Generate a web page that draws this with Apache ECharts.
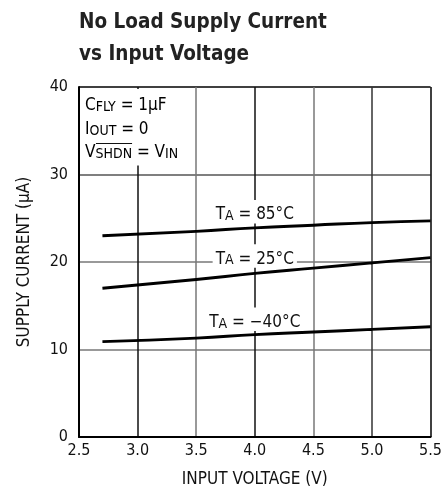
<!DOCTYPE html>
<html><head><meta charset="utf-8">
<script src="https://cdn.jsdelivr.net/npm/echarts@6/dist/echarts.min.js"></script>
<style>html,body{margin:0;padding:0;background:#fff}#c{width:445px;height:493px}</style>
</head><body><div id="c"></div>
<script>
var FONT = "'DejaVu Sans Condensed','Liberation Sans',sans-serif";
var voltage = [2.7, 3.5, 4.0, 4.5, 5.0, 5.5];
var cur85 = [23.0, 23.5, 23.9, 24.2, 24.5, 24.7];
var cur25 = [17.0, 18.0, 18.7, 19.3, 19.9, 20.5];
var curM40 = [10.9, 11.3, 11.7, 12.0, 12.3, 12.6];
var seriesNames = ['85', '25', '−40'];
var labelPos = [[4.0, 25.75], [4.0, 20.7], [4.0, 13.45]];
var xTicks = ['2.5', '3.0', '3.5', '4.0', '4.5', '5.0', '5.5'];
var yTicks = ['0', '10', '20', '30', '40'];

var BASE = 17, SUB = 14;
var rich = {
  b: {fontFamily: FONT, fontSize: BASE, lineHeight: 23.5, color: '#111', verticalAlign: 'bottom'},
  s: {fontFamily: FONT, fontSize: SUB, lineHeight: 14, color: '#111', verticalAlign: 'bottom'}
};

function mk(name, data, i) {
  return {
    type: 'line', name: name, data: voltage.map(function (v, k) { return [v, data[k]]; }),
    symbol: 'none', smooth: true, lineStyle: {color: '#000', width: 3}, z: 3,
    markPoint: {
      symbol: 'rect', symbolSize: 0,
      data: [{coord: labelPos[i]}],
      label: {show: true, position: 'inside', backgroundColor: '#fff', padding: [0, 3, 0, 3],
        formatter: '{b|T}{s|A}{b| = ' + name + '°C}', rich: rich}
    }
  };
}

// measure text for the overline above SHDN
var cv = document.createElement('canvas').getContext('2d');
cv.font = BASE + 'px ' + FONT; var wV = cv.measureText('V').width;
cv.font = SUB + 'px ' + FONT; var wS = cv.measureText('SHDN').width;
var ANN_L = 81, ANN_T = 89, PAD_L = 4, PAD_T = 2;

var chart = echarts.init(document.getElementById('c'));
chart.setOption({
  animation: false,
  backgroundColor: '#fff',
  title: {
    text: 'No Load Supply Current\nvs Input Voltage', left: 74, top: 2,
    textStyle: {fontFamily: FONT, fontSize: 20.5, fontWeight: 'bold', color: '#222', lineHeight: 32}
  },
  grid: {left: 79, right: 14, top: 87, bottom: 53},
  xAxis: {
    type: 'value', min: 2.5, max: 5.5, interval: 0.5,
    name: 'INPUT VOLTAGE (V)', nameLocation: 'middle', nameGap: 34,
    nameTextStyle: {fontFamily: FONT, fontSize: 17, color: '#111'},
    axisLine: {lineStyle: {color: '#000', width: 2}},
    axisTick: {show: false},
    axisLabel: {fontFamily: FONT, fontSize: 16, color: '#111', margin: 6,
      formatter: function (v) { return xTicks[Math.round((v - 2.5) / 0.5)]; }},
    splitLine: {show: true, lineStyle: {color: ['#000', '#111', '#777', '#111', '#777', '#333', '#000'], width: 1.5}}
  },
  yAxis: {
    type: 'value', min: 0, max: 40, interval: 10,
    name: 'SUPPLY CURRENT (μA)', nameLocation: 'middle', nameGap: 46,
    nameTextStyle: {fontFamily: FONT, fontSize: 17, color: '#111'},
    axisLine: {show: true, lineStyle: {color: '#000', width: 2}},
    axisTick: {show: false},
    axisLabel: {fontFamily: FONT, fontSize: 16, color: '#111', margin: 11,
      formatter: function (v) { return yTicks[Math.round(v / 10)]; }},
    splitLine: {show: true, lineStyle: {color: ['#000', '#777', '#777', '#555', '#000'], width: 1.5}}
  },
  graphic: [{
    type: 'text', left: ANN_L, top: ANN_T, z: 100,
    style: {
      text: '{b|C}{s|FLY}{b| = 1μF}\n{b|I}{s|OUT}{b| = 0}\n{b|V}{s|SHDN}{b| = V}{s|IN}',
      rich: rich, backgroundColor: '#fff', padding: [PAD_T, 6, 4, PAD_L]
    }
  }, {
    type: 'line', z: 101,
    shape: {x1: ANN_L + PAD_L + wV + 0.5, y1: ANN_T + PAD_T + 2 * 23.5 + 5.5,
            x2: ANN_L + PAD_L + wV + wS, y2: ANN_T + PAD_T + 2 * 23.5 + 5.5},
    style: {stroke: '#111', lineWidth: 1.2}
  }],
  series: [mk(seriesNames[0], cur85, 0), mk(seriesNames[1], cur25, 1), mk(seriesNames[2], curM40, 2)]
});
</script></body></html>
